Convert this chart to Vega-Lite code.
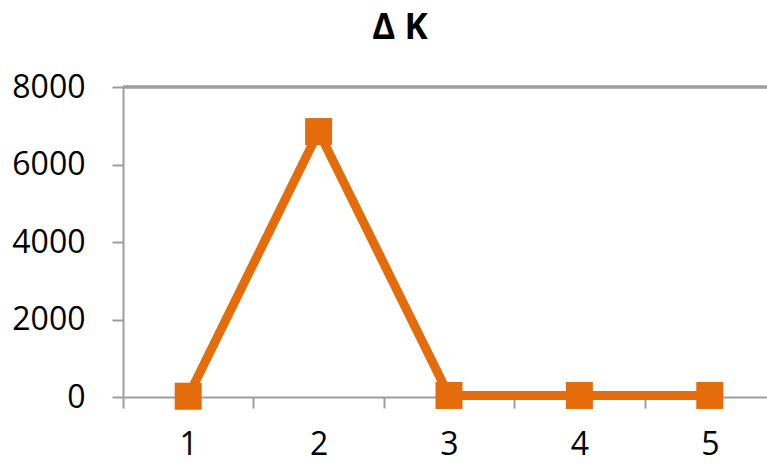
{
  "$schema": "https://vega.github.io/schema/vega-lite/v6.json",
  "autosize": "none",
  "width": 652,
  "height": 310,
  "padding": {"left": 123, "top": 87, "right": 0, "bottom": 66},
  "background": "white",
  "config": {
    "view": {"stroke": null},
    "font": "Open Sans"
  },
  "title": {
    "text": "Δ K",
    "font": "Open Sans",
    "fontSize": 35,
    "fontWeight": "bold",
    "color": "black",
    "anchor": "middle",
    "frame": "group",
    "dx": -49,
    "offset": 25
  },
  "data": {
    "values": [
      {"step": "1", "dk": 20},
      {"step": "2", "dk": 6850},
      {"step": "3", "dk": 40},
      {"step": "4", "dk": 40},
      {"step": "5", "dk": 40}
    ]
  },
  "layer": [
    {
      "mark": {"type": "rule", "color": "#9e9e9e", "strokeWidth": 2.5},
      "encoding": {"y": {"datum": 8000, "type": "quantitative"}}
    },
    {
      "mark": {"type": "line", "color": "#e46c0a", "strokeWidth": 9, "strokeJoin": "miter"},
      "encoding": {
        "x": {
          "field": "step",
          "type": "ordinal",
          "scale": {"type": "band", "paddingInner": 0, "paddingOuter": 0},
          "axis": {
            "title": null,
            "labelAngle": 0,
            "tickBand": "extent",
            "domainColor": "#9e9e9e",
            "domainWidth": 2,
            "tickColor": "#9e9e9e",
            "tickWidth": 2,
            "tickSize": 11,
            "labelFontSize": 32,
            "labelColor": "black",
            "labelPadding": 21,
            "grid": false
          }
        },
        "y": {
          "field": "dk",
          "type": "quantitative",
          "scale": {"domain": [0, 8000], "nice": false},
          "axis": {
            "title": null,
            "values": [0, 2000, 4000, 6000, 8000],
            "format": "d",
            "domainColor": "#9e9e9e",
            "domainWidth": 2,
            "tickColor": "#9e9e9e",
            "tickWidth": 2,
            "tickSize": 11,
            "labelFontSize": 32,
            "labelColor": "black",
            "labelPadding": 27,
            "grid": false
          }
        }
      }
    },
    {
      "mark": {"type": "square", "color": "#e46c0a", "filled": true, "opacity": 1, "size": 729},
      "encoding": {
        "x": {"field": "step", "type": "ordinal"},
        "y": {"field": "dk", "type": "quantitative"}
      }
    }
  ]
}
